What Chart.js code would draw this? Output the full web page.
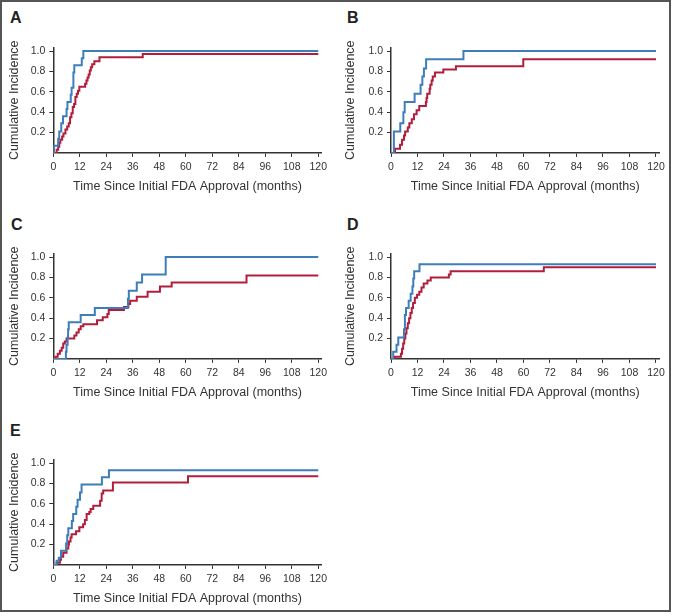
<!DOCTYPE html>
<html>
<head>
<meta charset="utf-8">
<script src="https://cdn.jsdelivr.net/npm/chart.js@4.4.1/dist/chart.umd.min.js"></script>
<style>
  html, body { margin: 0; padding: 0; background: #fff; }
  #fig { position: relative; width: 673px; height: 616px; overflow: hidden; }
  #frame { position: absolute; left: 0; top: 0; width: 671px; height: 612px; box-sizing: border-box; border: 2px solid #555; }
  canvas { position: absolute; }
  .tag { position: absolute; font: bold 16px "Liberation Sans", Arial, sans-serif; line-height: 16px; color: #222; }
</style>
</head>
<body>
<div id="fig">
  <div id="frame"></div>
  <div class="tag" style="left:10px;top:9.5px">A</div>
  <div class="tag" style="left:347px;top:10px">B</div>
  <div class="tag" style="left:11px;top:216.5px">C</div>
  <div class="tag" style="left:347px;top:216.5px">D</div>
  <div class="tag" style="left:10px;top:423px">E</div>
  <canvas id="chartA" width="336" height="205" style="left:0;top:0"></canvas>
  <canvas id="chartB" width="337" height="205" style="left:336px;top:0"></canvas>
  <canvas id="chartC" width="336" height="205" style="left:0;top:206px"></canvas>
  <canvas id="chartD" width="337" height="205" style="left:336px;top:206px"></canvas>
  <canvas id="chartE" width="336" height="205" style="left:0;top:412px"></canvas>
</div>
<script>
// tick values
const xTicks = [0, 12, 24, 36, 48, 60, 72, 84, 96, 108, 120];
const yTicks = [0.2, 0.4, 0.6, 0.8, 1.0];

// A
const aBlueT = [0, 0.3, 2.2, 2.7, 3.6, 4.4, 6.0, 6.4, 7.9, 8.3, 9.1, 9.5, 12.9, 13.6, 120];
const aBlueY = [0, 0.07, 0.14, 0.21, 0.29, 0.36, 0.43, 0.50, 0.57, 0.64, 0.79, 0.86, 0.93, 1.0, 1.0];
const aRedT = [0, 1.5, 2.2, 2.7, 3.2, 4.0, 4.6, 5.5, 6.3, 7.0, 7.6, 8.2, 8.8, 9.4, 10.0, 10.6, 11.2, 11.8, 14.4, 15.0, 15.5, 16.0, 16.5, 17.0, 17.6, 18.6, 20.9, 40.5, 120];
const aRedY = [0, 0.03, 0.06, 0.10, 0.13, 0.16, 0.19, 0.23, 0.26, 0.29, 0.35, 0.39, 0.45, 0.48, 0.55, 0.58, 0.61, 0.65, 0.68, 0.71, 0.74, 0.77, 0.81, 0.84, 0.87, 0.90, 0.94, 0.97, 0.97];

// B
const bBlueT = [0, 1.3, 4.2, 5.6, 6.2, 10.7, 13.4, 14.2, 14.9, 15.9, 32.8, 120];
const bBlueY = [0, 0.21, 0.29, 0.40, 0.50, 0.58, 0.67, 0.75, 0.83, 0.92, 1.0, 1.0];
const bRedT = [0, 1.8, 4.1, 5.0, 5.9, 6.4, 7.6, 8.3, 9.4, 10.4, 11.6, 12.8, 15.8, 16.1, 16.4, 17.5, 17.8, 18.4, 18.9, 19.9, 23.7, 29.4, 59.9, 120];
const bRedY = [0, 0.04, 0.08, 0.13, 0.17, 0.21, 0.25, 0.29, 0.33, 0.38, 0.42, 0.46, 0.50, 0.54, 0.58, 0.63, 0.67, 0.71, 0.75, 0.79, 0.82, 0.85, 0.92, 0.92];

// C
const cBlueT = [0, 5.7, 6.0, 6.5, 6.7, 7.0, 12.4, 18.8, 33.8, 34.2, 37.8, 40.2, 50.9, 120];
const cBlueY = [0, 0.07, 0.14, 0.21, 0.29, 0.36, 0.43, 0.50, 0.59, 0.67, 0.75, 0.83, 1.0, 1.0];
const cRedT = [0, 1.0, 2.0, 3.0, 3.8, 4.5, 5.2, 6.0, 9.5, 10.5, 11.5, 12.4, 13.6, 19.8, 22.4, 24.5, 25.1, 32.0, 34.0, 34.8, 37.8, 42.7, 48.3, 53.6, 87.5, 120];
const cRedY = [0, 0.02, 0.05, 0.08, 0.11, 0.15, 0.17, 0.20, 0.23, 0.26, 0.29, 0.32, 0.34, 0.38, 0.41, 0.44, 0.48, 0.51, 0.54, 0.57, 0.61, 0.66, 0.71, 0.75, 0.82, 0.82];

// D
const dBlueT = [0, 1.0, 2.5, 3.3, 5.9, 6.3, 6.8, 8.0, 8.9, 9.7, 10.1, 10.5, 12.9, 120];
const dBlueY = [0, 0.07, 0.14, 0.21, 0.29, 0.43, 0.50, 0.57, 0.64, 0.71, 0.79, 0.86, 0.93, 0.93];
const dRedT = [0, 1.8, 4.5, 5.0, 5.5, 6.0, 6.5, 7.0, 7.6, 8.2, 8.8, 9.4, 10.0, 10.8, 11.8, 12.8, 13.8, 14.8, 16.5, 18.0, 26.2, 27.0, 69.2, 120];
const dRedY = [0, 0.02, 0.05, 0.10, 0.15, 0.20, 0.25, 0.30, 0.35, 0.40, 0.45, 0.50, 0.55, 0.60, 0.63, 0.66, 0.70, 0.74, 0.77, 0.80, 0.83, 0.86, 0.90, 0.90];

// E
const eBlueT = [0, 1.5, 2.5, 3.5, 5.8, 6.3, 6.8, 8.4, 9.0, 10.4, 11.0, 12.1, 12.8, 22.0, 25.2, 120];
const eBlueY = [0, 0.04, 0.07, 0.14, 0.21, 0.29, 0.36, 0.43, 0.50, 0.57, 0.64, 0.71, 0.79, 0.86, 0.93, 0.93];
const eRedT = [0, 1.5, 3.0, 3.5, 4.5, 6.0, 6.8, 7.1, 7.8, 8.3, 10.3, 11.8, 13.5, 14.3, 15.1, 16.3, 16.9, 18.1, 21.2, 21.9, 22.6, 27.0, 61.0, 120];
const eRedY = [0, 0.02, 0.05, 0.08, 0.12, 0.16, 0.20, 0.23, 0.27, 0.30, 0.33, 0.37, 0.40, 0.44, 0.50, 0.52, 0.55, 0.58, 0.63, 0.70, 0.73, 0.81, 0.87, 0.87];

const blue = "#3c7dba";
const red = "#b01e3c";
const axisColor = "#333";
const sans = '"Liberation Sans", Arial, Helvetica, sans-serif';

function pts(t, y) {
  return t.map((v, i) => ({ x: v, y: y[i] }));
}

function makeChart(id, blueT, blueY, redT, redY, axisLeft) {
  const canvas = document.getElementById(id);
  const W = canvas.width, H = canvas.height;
  const plotTop = 47.5, plotBottom = 152.9;
  const plotRight = axisLeft + 268.3;
  return new Chart(canvas, {
    type: "line",
    data: {
      datasets: [
        { data: pts(blueT, blueY), borderColor: blue, borderWidth: 2, stepped: "before", pointRadius: 0, fill: false },
        { data: pts(redT, redY), borderColor: red, borderWidth: 2, stepped: "before", pointRadius: 0, fill: false },
      ],
    },
    options: {
      responsive: false,
      animation: false,
      devicePixelRatio: 1,
      layout: { padding: { left: 0, top: plotTop, right: W - plotRight, bottom: 0 } },
      plugins: { legend: { display: false }, tooltip: { enabled: false } },
      scales: {
        x: {
          type: "linear",
          min: 0,
          max: 121.5,
          afterBuildTicks: (s) => { s.ticks = xTicks.map((v) => ({ value: v })); },
          afterFit: (s) => { s.height = H - plotBottom; },
          grid: { display: true, drawOnChartArea: false, drawTicks: true, tickLength: 4, color: axisColor },
          border: { display: true, color: axisColor, width: 1.5 },
          ticks: { font: { family: sans, size: 10.5 }, color: axisColor, padding: 4, maxRotation: 0, autoSkip: false },
          title: { display: true, text: "Time Since Initial FDA Approval (months)", font: { family: sans, size: 12.5 }, color: "#333", padding: { top: 0, bottom: 10.5 } },
        },
        y: {
          type: "linear",
          min: 0,
          max: 1.035,
          afterBuildTicks: (s) => { s.ticks = yTicks.map((v) => ({ value: v })); },
          afterFit: (s) => { s.width = axisLeft; },
          grid: { display: true, drawOnChartArea: false, drawTicks: true, tickLength: 4, color: axisColor },
          border: { display: true, color: axisColor, width: 1.5 },
          ticks: { font: { family: sans, size: 10.5 }, color: axisColor, padding: 4, callback: (v) => v.toFixed(1) },
          title: { display: true, text: "Cumulative Incidence", font: { family: sans, size: 12.5 }, color: "#333", padding: { top: 7.5, bottom: 0 } },
        },
      },
    },
  });
}

makeChart("chartA", aBlueT, aBlueY, aRedT, aRedY, 53.3);
makeChart("chartB", bBlueT, bBlueY, bRedT, bRedY, 55);
makeChart("chartC", cBlueT, cBlueY, cRedT, cRedY, 53.3);
makeChart("chartD", dBlueT, dBlueY, dRedT, dRedY, 55);
makeChart("chartE", eBlueT, eBlueY, eRedT, eRedY, 53.3);
</script>
</body>
</html>
